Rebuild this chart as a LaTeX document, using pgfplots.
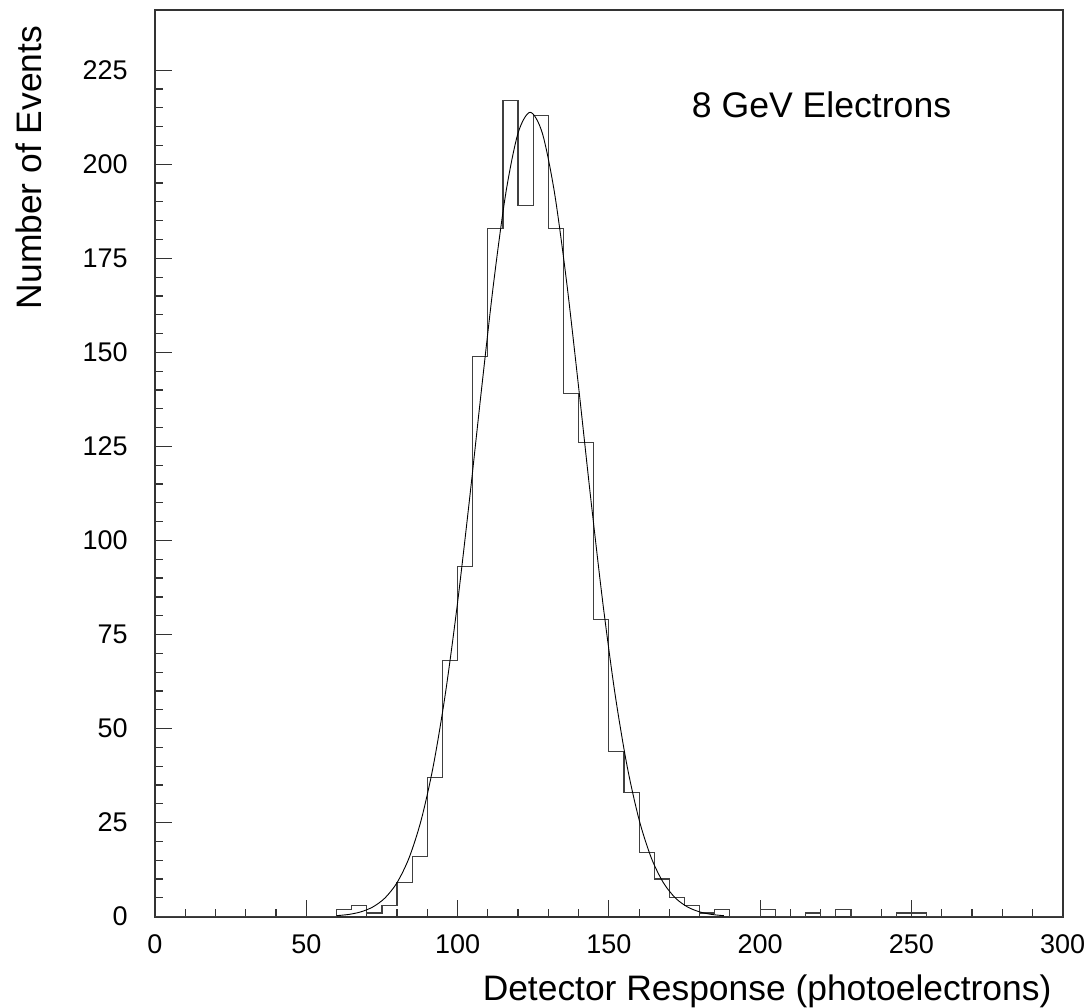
\documentclass[border=0pt]{standalone}
\usepackage{pgfplots}
\pgfplotsset{compat=1.18}
\usepackage{fontspec}
\setmainfont{Liberation Sans}
\begin{document}
\begin{tikzpicture}
\begin{axis}[
  name=ax,
  scale only axis,
  width=453.85pt, height=453.35pt,
  xmin=0, xmax=300, ymin=0, ymax=241,
  xtick={0,50,...,300}, ytick={0,25,...,225},
  minor x tick num=4, minor y tick num=4,
  tick align=inside, xtick pos=bottom, ytick pos=left,
  major tick length=8.5pt, minor tick length=4pt,
  axis line style={black!80, line width=0.8pt},
  every tick/.style={black!80, line width=0.6pt},
  /pgf/number format/assume math mode=true,
  xticklabel style={font=\fontsize{13.5}{13.5}\selectfont, inner sep=0pt, anchor=north, yshift=-9pt},
  yticklabel style={font=\fontsize{13.5}{13.5}\selectfont, inner sep=0pt, anchor=east, xshift=-13.5pt},
  xlabel={Detector Response (photoelectrons)},
  ylabel={Number of Events},
  xlabel style={font=\fontsize{17.7}{17.7}\selectfont, inner sep=0pt, at={(axis description cs:0.988,-0.0919)}, anchor=base east},
  ylabel style={font=\fontsize{17.7}{17.7}\selectfont, inner sep=0pt, at={(axis description cs:-0.1245,0.983)}, anchor=base east, rotate=0},
  clip=false,
]
\addplot[const plot, black!75, line width=0.6pt] coordinates {
(0,0) (60,2) (65,3) (70,1) (75,3) (80,9) (85,16) (90,37) (95,68) (100,93)
(105,149) (110,183) (115,217) (120,189) (125,213) (130,183) (135,139) (140,126)
(145,79) (150,44) (155,33) (160,17) (165,10) (170,5) (175,3) (180,1) (185,2)
(190,0) (200,2) (205,0) (215,1) (220,0) (225,2) (230,0) (245,1) (255,0) (300,0)
};
\addplot[smooth, black, line width=0.45pt] coordinates {
(60,0.27) (64,0.60) (68,1.28) (72,2.59) (76,4.97) (80,9.06) (84,15.69) (88,25.77)
(92,40.17) (96,59.44) (100,83.49) (104,111.3) (108,140.8) (112,169.0) (116,192.6)
(120,208.3) (124,213.8) (128,208.3) (132,192.6) (136,169.0) (140,140.8) (144,111.3)
(148,83.49) (152,59.44) (156,40.17) (160,25.77) (164,15.69) (168,9.06) (172,4.97)
(176,2.59) (180,1.28) (184,0.60) (188,0.27)
};
\node[font=\fontsize{17.8}{17.8}\selectfont, inner sep=0pt] at (axis cs:220.3,215.7) {8 GeV Electrons};
\end{axis}
\pgfresetboundingbox
\path[use as bounding box] ([shift={(-77.5pt,-45.15pt)}]ax.south west) rectangle ([shift={(14.65pt,5pt)}]ax.north east);
\end{tikzpicture}
\end{document}
